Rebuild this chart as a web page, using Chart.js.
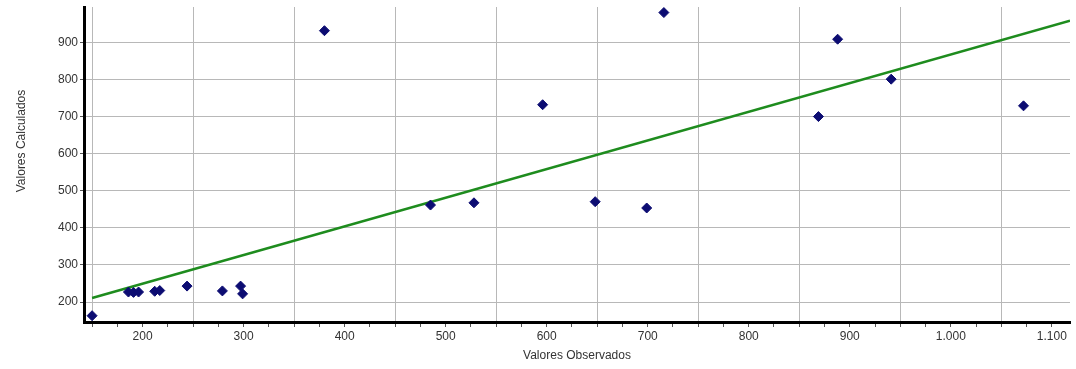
<!DOCTYPE html>
<html>
<head>
<meta charset="utf-8">
<script src="https://cdn.jsdelivr.net/npm/chart.js@4/dist/chart.umd.min.js"></script>
<style>
  body { margin: 0; background: #fff; }
  #wrap { width: 1076px; height: 369px; }
</style>
</head>
<body>
<div id="wrap"><canvas id="grafico" width="1076" height="369"></canvas></div>
<script>
// valores
const valoresObservados = [150, 186, 191, 196, 212, 217, 244, 279, 297, 299, 380, 485, 528, 596, 648, 699, 716, 869, 888, 941, 1072];
const valoresCalculados = [163, 227, 226, 227, 229, 231, 243, 230, 243, 222, 933, 462, 468, 733, 471, 454, 982, 701, 910, 802, 730];

// reta de ajuste (extremos)
const retaX = [150, 1118];
const retaY = [211, 960];

// rótulos dos eixos
const rotulosX = [200, 300, 400, 500, 600, 700, 800, 900, 1000, 1100];
const rotulosY = [200, 300, 400, 500, 600, 700, 800, 900];
const tituloX = 'Valores Observados';
const tituloY = 'Valores Calculados';

// marcas menores do eixo x a cada 25
const marcasX = [];
for (let v = 150; v <= 1100; v += 25) marcasX.push(v);

function formatar(v) {
    if (v >= 1000) return Math.floor(v / 1000) + '.' + String(v % 1000).padStart(3, '0');
    return String(v);
}

const fonte = { family: 'Arial, "Liberation Sans", sans-serif', size: 12 };

// título do eixo y desenhado à parte
const tituloYPlugin = {
    id: 'tituloY',
    afterDraw(chart) {
        const c = chart.ctx;
        c.save();
        c.translate(22, 141);
        c.rotate(-Math.PI / 2);
        c.font = '12px Arial, "Liberation Sans", sans-serif';
        c.fillStyle = '#333';
        c.textAlign = 'center';
        c.textBaseline = 'middle';
        c.fillText(tituloY, 0, 0);
        c.restore();
    }
};

const ctx = document.getElementById('grafico').getContext('2d');
const chart = new Chart(ctx, {
    type: 'scatter',
    data: {
        datasets: [
            {
                label: 'Reta',
                type: 'line',
                data: retaX.map((x, i) => ({ x: x, y: retaY[i] })),
                borderColor: '#1e8c1e',
                borderWidth: 2.5,
                pointRadius: 0,
                fill: false,
                order: 2
            },
            {
                label: 'Pontos',
                data: valoresObservados.map((x, i) => ({ x: x, y: valoresCalculados[i] })),
                backgroundColor: '#0c0c72',
                borderColor: '#0c0c72',
                pointStyle: 'rectRot',
                pointRadius: 5,
                order: 1
            }
        ]
    },
    options: {
        responsive: false,
        animation: false,
        layout: { padding: { left: 0, right: 0, top: 7, bottom: 0 } },
        plugins: { legend: { display: false }, tooltip: { enabled: false } },
        scales: {
            x: {
                type: 'linear',
                min: 142,
                max: 1118,
                afterBuildTicks: axis => { axis.ticks = marcasX.map(v => ({ value: v })); },
                afterFit: axis => { axis.height = 47; axis.paddingRight = 0; axis.paddingLeft = 0; },
                border: { color: '#000', width: 3 },
                grid: {
                    color: c => (c.tick && c.tick.value % 100 === 50) ? '#b8b8b8' : 'rgba(0,0,0,0)',
                    tickColor: '#555',
                    drawTicks: true,
                    tickLength: 5
                },
                ticks: {
                    autoSkip: false,
                    maxRotation: 0,
                    padding: 2,
                    color: '#333',
                    font: fonte,
                    callback: v => rotulosX.includes(v) ? formatar(v) : ''
                },
                title: {
                    display: true,
                    text: tituloX,
                    color: '#333',
                    font: fonte,
                    padding: { top: 0, bottom: 6 }
                }
            },
            y: {
                type: 'linear',
                min: 146,
                max: 997,
                afterBuildTicks: axis => { axis.ticks = rotulosY.map(v => ({ value: v })); },
                afterFit: axis => { axis.width = 84; axis.paddingTop = 0; axis.paddingBottom = 0; },
                border: { color: '#000', width: 3 },
                grid: {
                    color: '#b8b8b8',
                    tickColor: '#555',
                    drawTicks: true,
                    tickLength: 4
                },
                ticks: {
                    padding: 2,
                    color: '#333',
                    font: fonte,
                    callback: v => formatar(v)
                }
            }
        }
    },
    plugins: [tituloYPlugin]
});
</script>
</body>
</html>
